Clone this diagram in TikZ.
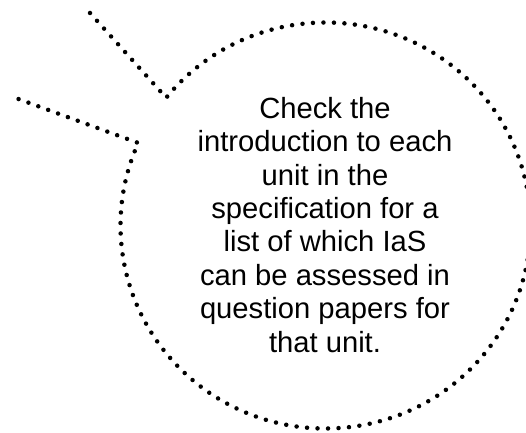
\documentclass[tikz,border=0pt]{standalone}
\usepackage{fontspec}
\setmainfont{Liberation Sans}
\usetikzlibrary{calc}
\begin{document}
\begin{tikzpicture}[x=1pt,y=1pt,
  dotline/.style={line width=4.5pt, line cap=round, dash pattern=on 0pt off 10.5pt},
  bubbletext/.style={align=center, inner sep=0pt, anchor=base, font=\fontsize{29.2}{33.4}\selectfont}]
\useasboundingbox (0,0) rectangle (526,432);
\coordinate (c) at (325.5,206.5);
\coordinate (tipa) at (90,419);
\coordinate (tipb) at (13,335);
\coordinate (ja) at ($(c)+(141:205 and 203)$);
\draw[dotline] (tipa) -- (ja) arc[start angle=141, end angle=-204, x radius=205, y radius=203] -- (tipb);
\node[bubbletext] (txt) at (325,80) {Check the\\introduction to each\\unit in the\\specification for a\\list of which IaS\\can be assessed in\\question papers for\\that unit.};
\end{tikzpicture}
\end{document}
